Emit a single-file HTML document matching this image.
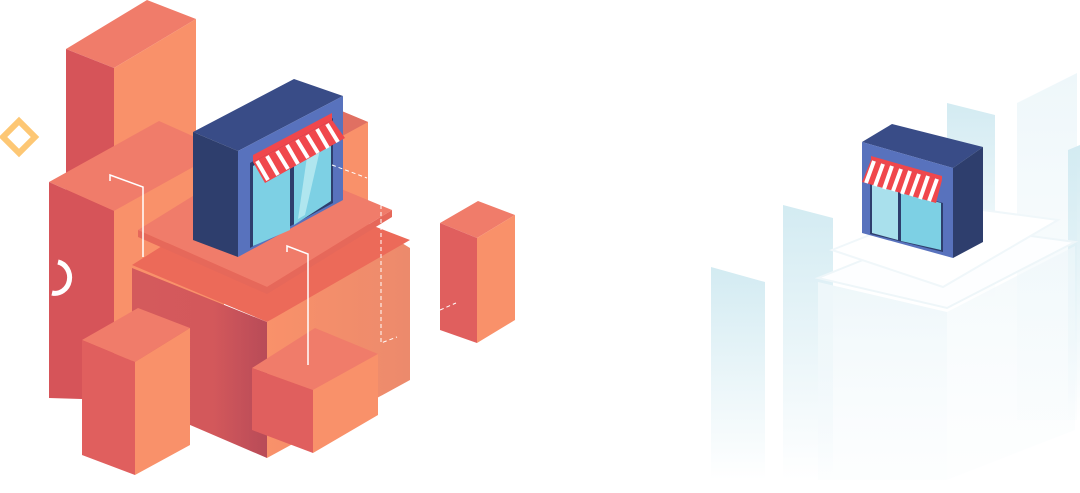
<!DOCTYPE html>
<html><head><style>html,body{margin:0;padding:0;background:#fff;width:1080px;height:493px;overflow:hidden}</style></head>
<body>
<svg width="1080" height="493" viewBox="0 0 1080 493" xmlns="http://www.w3.org/2000/svg">
<defs>
<linearGradient id="fb" x1="0" y1="0" x2="0" y2="1"><stop offset="0" stop-color="#d3ebf2"/><stop offset="1" stop-color="#d3ebf2" stop-opacity="0"/></linearGradient>
<linearGradient id="fw" x1="0" y1="0" x2="0" y2="1"><stop offset="0" stop-color="#eef7fa"/><stop offset="1" stop-color="#f7fbfd" stop-opacity="0.3"/></linearGradient>
<linearGradient id="bl" x1="0" y1="0" x2="1" y2="0"><stop offset="0" stop-color="#d45a5c"/><stop offset="0.6" stop-color="#d3585b"/><stop offset="1" stop-color="#b84b58"/></linearGradient>
<linearGradient id="br" x1="0" y1="0" x2="1" y2="0"><stop offset="0" stop-color="#f9916a"/><stop offset="1" stop-color="#ec8a6c"/></linearGradient>
</defs>
<polygon points="711,267 765,282 765,480 711,480" fill="url(#fb)"/>
<polygon points="783,205 833,218 833,480 783,480" fill="url(#fb)"/>
<polygon points="947,103 995,115 995,300 947,300" fill="url(#fb)"/>
<polygon points="1017,103 1077,73 1077,420 1017,420" fill="url(#fw)"/>
<polygon points="1068,150 1080,145 1080,420 1068,420" fill="url(#fb)"/>
<polygon points="818,282 947,312 947,480 818,480" fill="url(#fw)"/>
<polygon points="947,312 1075,246 1075,430 947,480" fill="url(#fw)" opacity="0.7"/>
<polygon points="818,278 950,225 1075,242 947,308" fill="#fdfeff" stroke="#eef6f9" stroke-width="2"/>
<polygon points="832,250 945,205 1058,220 943,287" fill="#ffffff" stroke="#f0f7fa" stroke-width="2"/>
<polygon points="862,142 892,124 983,147 953,168" fill="#394c87"/>
<polygon points="862,142 953,168 953,258 862,233" fill="#5872bd"/>
<polygon points="953,168 983,147 983,242 953,258" fill="#2e3e6d"/>
<polygon points="870,182 943,203 943,252 870,234" fill="#2e3e6d"/>
<polygon points="872,184 898,191 898,240 872,233" fill="#a9e0ec"/>
<polygon points="901,192 941,203 941,250 901,241" fill="#7dd0e4"/>
<polygon points="871,156 942,176 942,180 871,160" fill="#f0474c"/>
<polygon points="871,160 942,180 936,203 862,182" fill="#f0474c"/>
<g stroke="#fff" stroke-width="4">
<line x1="874" y1="161" x2="866" y2="183"/><line x1="883" y1="164" x2="875" y2="186"/><line x1="892" y1="166" x2="884" y2="189"/><line x1="901" y1="169" x2="893" y2="191"/><line x1="910" y1="171" x2="902" y2="194"/><line x1="919" y1="174" x2="911" y2="196"/><line x1="928" y1="176" x2="920" y2="199"/><line x1="937" y1="179" x2="929" y2="201"/>
</g>
<polygon points="66,49 147,0 196,19 114,68" fill="#f07c6a"/>
<polygon points="66,49 114,68 114,300 66,300" fill="#d65459"/>
<polygon points="114,68 196,19 196,300 114,300" fill="#f9916a"/>
<polygon points="332,107 368,122 368,320 332,320" fill="#f9916a"/>
<polygon points="300,125 332,107 368,122 335,140" fill="#e07062"/>
<polygon points="49,182 159,121 224,150 114,211" fill="#f07c6a"/>
<polygon points="49,182 114,211 114,400 49,398" fill="#d65459"/>
<polygon points="114,211 224,150 224,400 114,400" fill="#f9916a"/>
<polygon points="132,268 267,322 267,458 132,400" fill="url(#bl)"/>
<polygon points="267,322 397,240 410,248 410,380 267,458" fill="url(#br)"/>
<polygon points="132,265 262,183 410,240 267,322" fill="#ec6a59"/>
<polygon points="138,230 259,155 392,210 267,287" fill="#f07c6a"/>
<polygon points="138,230 267,287 267,294 138,237" fill="#e6685a"/>
<polygon points="267,287 392,210 392,217 267,294" fill="#e6685a"/>
<polygon points="193,132 294,79 343,96 238,151" fill="#394c87"/>
<polygon points="193,132 238,151 238,257 193,240" fill="#2e3e6d"/>
<polygon points="238,151 343,96 343,200 238,257" fill="#5872bd"/>
<polygon points="250,163 333,118 333,203 250,248" fill="#2e3e6d"/>
<polygon points="253,166 290,146 290,230 253,246" fill="#7dd0e4"/>
<polygon points="294,144 331,124 331,201 294,225" fill="#7dd0e4"/>
<polygon points="310,136 325,128 305,215 298,219" fill="#b0e6ef"/>
<polygon points="253,155 332,113 332,120 253,162" fill="#f0474c"/>
<polygon points="253,162 332,120 345,138 265,183" fill="#f0474c"/>
<g stroke="#fff" stroke-width="4">
<line x1="257" y1="161" x2="268" y2="180"/><line x1="267" y1="156" x2="278" y2="175"/><line x1="277" y1="151" x2="288" y2="169"/><line x1="287" y1="145" x2="298" y2="164"/><line x1="297" y1="140" x2="308" y2="158"/><line x1="307" y1="135" x2="318" y2="153"/><line x1="317" y1="129" x2="328" y2="148"/><line x1="327" y1="124" x2="338" y2="142"/>
</g>
<polygon points="82,340 138,308 190,328 135,362" fill="#f07c6a"/>
<polygon points="82,340 135,362 135,475 82,455" fill="#e05f5e"/>
<polygon points="135,362 190,328 190,445 135,475" fill="#f9916a"/>
<polygon points="252,368 315,328 378,354 313,390" fill="#f07c6a"/>
<polygon points="252,368 313,390 313,453 252,430" fill="#e05f5e"/>
<polygon points="313,390 378,354 378,415 313,453" fill="#f9916a"/>
<polygon points="440,223 478,201 515,215 477,238" fill="#f07c6a"/>
<polygon points="440,223 477,238 477,343 440,330" fill="#e05f5e"/>
<polygon points="477,238 515,215 515,320 477,343" fill="#f9916a"/>
<polyline points="110,181 110,175 143,187 143,257" fill="none" stroke="#fff" stroke-width="1.5"/>
<polyline points="287,252 287,246 308,254 308,365" fill="none" stroke="#fff" stroke-width="1.5"/>
<g fill="none" stroke="#fff" stroke-width="1" stroke-dasharray="4,3">
<polyline points="332,165 367,178"/><polyline points="381,205 381,343 397,337"/><polyline points="440,310 456,303"/>
</g>
<polygon points="19,121 35,137 19,153 3,137" fill="none" stroke="#fdc774" stroke-width="6"/>
<path d="M58,262 A12,13 0 1 1 52,293" fill="none" stroke="#fff" stroke-width="5"/>
</svg>
</body></html>
